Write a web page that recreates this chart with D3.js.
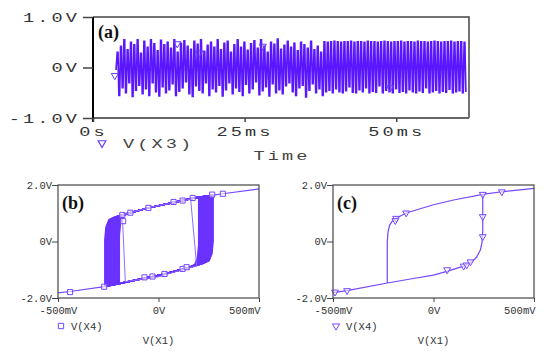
<!DOCTYPE html>
<html>
<head>
<meta charset="utf-8">
<script src="https://cdn.jsdelivr.net/npm/d3@7"></script>
<style>
  body { margin: 0; background: #fff; }
  svg { display: block; }
  .tick text { font-family: "Liberation Mono", monospace; fill: #333; }
</style>
</head>
<body>
<svg id="chart" width="550" height="355"></svg>
<script>
// ---- panel (a): V(X3) vs time, one swing per period (hi / lo peaks, volts)
const sigT0 = 4.0, sigDt = 0.55, sigBase = -0.05;
const sigHi = [
  .30,.42,.55,.35,.50,.45,.55,.28,.52,.40,
  .55,.47,.33,.54,.45,.50,.38,.55,.30,.48,
  .53,.42,.36,.52,.46,.55,.32,.44,.50,.40,
  .55,.35,.48,.52,.30,.45,.55,.40,.50,.34,
  .47,.53,.38,.55,.42,.30,.50,.46,.56,.36,
  .44,.52,.40,.48,.33,.50,.45,.38,.52,.35,
  .42,.30,
  .51,.50,.51,.52,.51,.50,.51,.51,.52,.50,
  .51,.51,.50,.52,.51,.51,.50,.51,.52,.51,
  .50,.51,.51,.52,.50,.51,.51,.50,.52,.51,
  .51,.50,.51,.52,.51,.50,.51,.51,.52,.50,
  .51,.51,.50
];
const sigLo = [
  -.55,-.40,-.50,-.30,-.57,-.45,-.35,-.52,-.42,-.55,
  -.30,-.48,-.56,-.38,-.50,-.44,-.32,-.55,-.47,-.40,
  -.28,-.52,-.57,-.36,-.45,-.50,-.30,-.55,-.42,-.48,
  -.35,-.56,-.44,-.30,-.52,-.40,-.47,-.55,-.33,-.50,
  -.42,-.28,-.54,-.46,-.38,-.56,-.32,-.50,-.44,-.52,
  -.36,-.30,-.48,-.55,-.40,-.35,-.58,-.45,-.32,-.50,
  -.42,-.55,
  -.48,-.45,-.50,-.42,-.48,-.50,-.46,-.38,-.49,-.50,
  -.44,-.48,-.40,-.50,-.47,-.49,-.36,-.50,-.45,-.48,
  -.50,-.42,-.49,-.47,-.50,-.44,-.48,-.50,-.46,-.49,
  -.40,-.50,-.48,-.45,-.50,-.47,-.49,-.43,-.50,-.48,
  -.46,-.50,-.47
];
const markA = [[3.6,-0.16],[13.9,0.47],[17.5,0.29],[28.0,0.42],[49.0,-0.40]];
const ticksA_x = [0, 25, 50], labelsA_x = ['0s', '25ms', '50ms'];
const ticksA_y = [-1, 0, 1], labelsA_y = ['-1.0V', '0V', '1.0V'];

// ---- panel (b): V(X4) vs V(X1), many nested loops
const bLower = [[-0.5,-1.82],[-0.44,-1.77],[-0.27,-1.6],[-0.07,-1.3],[-0.02,-1.23],[0.03,-1.15],[0.12,-0.98],[0.18,-0.86],[0.3,-0.62]];
const bUpper = [[-0.3,0.7],[-0.22,0.86],[-0.14,1.02],[-0.05,1.19],[0.075,1.38],[0.12,1.45],[0.17,1.53],[0.27,1.64],[0.32,1.69],[0.5,1.86]];
const bFall = [-0.267,-0.263,-0.259,-0.255,-0.251,-0.247,-0.243,-0.239,-0.235,-0.231,-0.227,-0.223,-0.219,-0.215,-0.211,-0.207,-0.203,-0.199,-0.195];
const bRise = [0.272,0.268,0.264,0.260,0.256,0.252,0.248,0.244,0.240,0.236,0.232,0.228,0.224,0.220,0.216,0.212,0.208,0.204,0.200];
const bInner = [[-0.165,-1.42],[0.0,-1.25],[0.12,-1.0],[0.19,-0.87],[0.16,1.5],[0.075,1.38],[-0.05,1.19],[-0.14,1.02],[-0.18,0.93],[-0.165,-1.42]];
const kneeShape = [[0.03,0.1],[0.044,0.35],[0.05,0.8]];
const markB = [[-0.44,-1.79],[-0.27,-1.6],[-0.07,-1.27],[-0.03,-1.24],[0.03,-1.15],[0.12,-0.97],[0.14,-0.91],
  [-0.176,0.72],[-0.18,0.94],[-0.14,1.02],[-0.05,1.19],[0.075,1.40],[0.12,1.45],[0.17,1.54],[0.267,1.66],[0.32,1.69]];

// ---- panel (c): V(X4) vs V(X1), single loop
const cLoop = [[-0.5,-1.81],[-0.43,-1.74],[-0.23,-1.47],[-0.1,-1.31],[0.0,-1.19],[0.075,-1.04],[0.15,-0.87],[0.19,-0.72],
  [0.215,-0.55],[0.233,-0.3],[0.241,-0.05],[0.245,0.4],[0.245,1.67],[0.34,1.76],[0.5,1.88],
  [0.34,1.76],[0.245,1.67],[0.1,1.47],[0.0,1.3],[-0.136,1.01],[-0.186,0.82],[-0.205,0.72],[-0.218,0.58],
  [-0.226,0.35],[-0.23,0.0],[-0.23,-1.47]];
const markC = [[-0.49,-1.79],[-0.43,-1.74],[-0.186,0.82],[-0.19,0.74],[-0.136,1.01],[0.245,1.67],[0.34,1.76],
  [0.245,0.88],[0.245,0.17],[0.068,-1.0],[0.15,-0.87],[0.165,-0.83],[0.184,-0.72]];

const ticksXY_x = [-0.5, 0, 0.5], labelsXY_x = ['-500mV', '0V', '500mV'];
const ticksXY_y = [-2, 0, 2], labelsXY_y = ['-2.0V', '0V', '2.0V'];

const svg = d3.select('#chart');
const violet = '#5a17ff', loopColor = '#7546ff', bandColor = '#6a32ff';

// ===== panel (a)
{
  const L = 93, R = 469, T = 17, B = 118;
  const x = d3.scaleLinear().domain([0, 62]).range([L, R]);
  const y = d3.scaleLinear().domain([-1, 1]).range([B, T]);
  const g = svg.append('g');

  const pts = [[sigT0 - 0.2, sigBase]];
  sigHi.forEach((h, i) => {
    const t = sigT0 + i * sigDt;
    pts.push([t, h], [t + 0.12, h], [t + sigDt * 0.5, sigLo[i]], [t + sigDt * 0.5 + 0.12, sigLo[i]]);
  });
  g.append('path')
      .attr('d', d3.line().x(d => x(d[0])).y(d => y(d[1]))(pts))
      .attr('fill', 'none')
      .attr('stroke', violet)
      .attr('stroke-width', 1.7);
  // faint mid-level trace that shows through the gaps
  g.append('path')
      .attr('d', d3.line().x(d => x(d[0])).y(d => y(d[1]))([[sigT0, sigBase], [sigT0 + sigHi.length * sigDt, sigBase]]))
      .attr('stroke', violet).attr('stroke-width', 0.8).attr('stroke-dasharray', '6 10').attr('opacity', 0.6);

  g.selectAll('.mk').data(markA).enter().append('path')
      .attr('d', d3.symbol(d3.symbolTriangle, 22))
      .attr('transform', d => `translate(${x(d[0])},${y(d[1])}) rotate(180)`)
      .attr('fill', 'none').attr('stroke', '#6a3cff').attr('stroke-width', 1);

  // frame
  g.append('path').attr('d', `M${L},${T}H${R}V${B}`).attr('fill', 'none').attr('stroke', '#444').attr('stroke-width', 1.5);
  g.append('line').attr('x1', L).attr('x2', R).attr('y1', B).attr('y2', B).attr('stroke', '#666').attr('stroke-width', 2);
  g.append('line').attr('x1', L).attr('x2', L).attr('y1', T).attr('y2', B + 4).attr('stroke', '#000').attr('stroke-width', 2);

  const sx = 1.55;
  const ya = g.append('g').attr('transform', `translate(${L},0)`)
      .call(d3.axisLeft(y).tickValues(ticksA_y).tickSize(10).tickFormat((d, i) => labelsA_y[i]));
  const xa = g.append('g').attr('transform', `translate(0,${B})`)
      .call(d3.axisBottom(x).tickValues(ticksA_x).tickSize(4).tickFormat((d, i) => labelsA_x[i]));
  [ya, xa].forEach(a => {
    a.select('.domain').remove();
    a.selectAll('line').attr('stroke', '#444').attr('stroke-width', 1.5);
    a.selectAll('text').attr('font-size', 12).attr('letter-spacing', 2).attr('fill', '#444');
  });
  ya.selectAll('text').attr('x', -13 / sx).attr('dy', '0.35em').attr('transform', `scale(${sx},1)`);
  xa.selectAll('text').attr('y', 10).attr('dy', '0.65em').attr('transform', `scale(${sx},1)`);

  // legend + axis title
  g.append('path').attr('d', d3.symbol(d3.symbolTriangle, 26))
      .attr('transform', 'translate(102,143) rotate(180)')
      .attr('fill', 'none').attr('stroke', '#6a3cff').attr('stroke-width', 1.2);
  g.append('text').attr('transform', `translate(123,148) scale(${sx},1)`)
      .attr('font-family', 'Liberation Mono').attr('font-size', 12).attr('letter-spacing', 2).attr('fill', '#444')
      .text('V(X3)');
  g.append('text').attr('transform', `translate(282,160) scale(${sx},1)`)
      .attr('text-anchor', 'middle')
      .attr('font-family', 'Liberation Mono').attr('font-size', 12).attr('letter-spacing', 2).attr('fill', '#444')
      .text('Time');
  g.append('text').attr('x', 98).attr('y', 38)
      .attr('font-family', 'Liberation Serif').attr('font-weight', 'bold').attr('font-size', 18).attr('fill', '#111')
      .text('(a)');
}

// ===== shared frame for the two loop panels
function loopPanel(L, R, T, B, label) {
  const x = d3.scaleLinear().domain([-0.5, 0.5]).range([L, R]);
  const y = d3.scaleLinear().domain([-2, 2]).range([B, T]);
  const g = svg.append('g');
  const plot = g.append('g');

  g.append('rect').attr('x', L).attr('y', T).attr('width', R - L).attr('height', B - T)
      .attr('fill', 'none').attr('stroke', '#555').attr('stroke-width', 1.3);

  const ya = g.append('g').attr('transform', `translate(${L},0)`)
      .call(d3.axisLeft(y).tickValues(ticksXY_y).tickSize(6).tickFormat((d, i) => labelsXY_y[i]));
  const xa = g.append('g').attr('transform', `translate(0,${B})`)
      .call(d3.axisBottom(x).tickValues(ticksXY_x).tickSize(4).tickFormat((d, i) => labelsXY_x[i]));
  [ya, xa].forEach(a => {
    a.select('.domain').remove();
    a.selectAll('line').attr('stroke', '#444');
    a.selectAll('text').attr('font-size', 10.5).attr('fill', '#333');
  });
  ya.selectAll('text').attr('x', -6);
  xa.selectAll('text').attr('y', 9);
  xa.selectAll('text').filter((d, i) => i === ticksXY_x.length - 1).attr('text-anchor', 'end').attr('x', 1);

  g.append('text').attr('x', L + 13).attr('y', 330)
      .attr('font-family', 'Liberation Mono').attr('font-size', 10.5).attr('fill', '#333').text('V(X4)');
  g.append('text').attr('x', (L + R) / 2).attr('y', 344).attr('text-anchor', 'middle')
      .attr('font-family', 'Liberation Mono').attr('font-size', 10.5).attr('fill', '#333').text('V(X1)');
  g.append('text').attr('x', L + 4).attr('y', T + 24)
      .attr('font-family', 'Liberation Serif').attr('font-weight', 'bold').attr('font-size', 18).attr('fill', '#111')
      .text(label);
  return {x, y, g, plot};
}

const line = (x, y) => d3.line().x(d => x(d[0])).y(d => y(d[1]));

// ===== panel (b)
{
  const {x, y, g, plot} = loopPanel(58, 259, 185, 298, '(b)');
  const lo = d3.scaleLinear().domain(bLower.map(p => p[0])).range(bLower.map(p => p[1]));
  const up = d3.scaleLinear().domain(bUpper.map(p => p[0])).range(bUpper.map(p => p[1]));
  const k0 = kneeShape[kneeShape.length - 1][0];

  bFall.forEach((l, i) => {
    const r = bRise[i];
    const p = [[l, lo(l)]];
    bLower.forEach(q => { if (q[0] > l && q[0] < r - k0) p.push(q); });
    const yl = lo(r - k0);
    p.push([r - k0, yl]);
    kneeShape.forEach(k => p.push([r - k0 + k[0], yl + k[1]]));
    p.push([r, up(r)]);
    bUpper.slice().reverse().forEach(q => { if (q[0] < r && q[0] > l + k0) p.push(q); });
    const yu = up(l + k0);
    p.push([l + k0, yu]);
    kneeShape.forEach(k => p.push([l + k0 - k[0], yu - k[1]]));
    p.push([l, lo(l)]);
    plot.append('path').attr('d', line(x, y)(p))
        .attr('fill', 'none').attr('stroke', bandColor).attr('stroke-width', 1.5);
  });
  // saturation tails
  plot.append('path').attr('d', line(x, y)(bLower.filter(q => q[0] <= -0.27).concat([[bFall[0], lo(bFall[0])]])))
      .attr('fill', 'none').attr('stroke', loopColor).attr('stroke-width', 1.2);
  plot.append('path').attr('d', line(x, y)([[bRise[0], up(bRise[0])]].concat(bUpper.filter(q => q[0] > 0.275))))
      .attr('fill', 'none').attr('stroke', loopColor).attr('stroke-width', 1.2);
  plot.append('path').attr('d', line(x, y)(bInner))
      .attr('fill', 'none').attr('stroke', '#8d6cff').attr('stroke-width', 1);

  plot.selectAll('.mk').data(markB).enter().append('path')
      .attr('d', d3.symbol(d3.symbolSquare, 26))
      .attr('transform', d => `translate(${x(d[0])},${y(d[1])})`)
      .attr('fill', '#fff').attr('fill-opacity', 0.6).attr('stroke', loopColor).attr('stroke-width', 1);

  g.append('path').attr('d', d3.symbol(d3.symbolSquare, 28))
      .attr('transform', 'translate(61,326)')
      .attr('fill', 'none').attr('stroke', loopColor).attr('stroke-width', 1);
}

// ===== panel (c)
{
  const {x, y, g, plot} = loopPanel(333, 534, 185, 298, '(c)');
  plot.append('path').attr('d', line(x, y)(cLoop))
      .attr('fill', 'none').attr('stroke', loopColor).attr('stroke-width', 1.2);
  plot.selectAll('.mk').data(markC).enter().append('path')
      .attr('d', d3.symbol(d3.symbolTriangle, 20))
      .attr('transform', d => `translate(${x(d[0])},${y(d[1])}) rotate(180)`)
      .attr('fill', '#fff').attr('fill-opacity', 0.6).attr('stroke', loopColor).attr('stroke-width', 1);

  g.append('path').attr('d', d3.symbol(d3.symbolTriangle, 22))
      .attr('transform', 'translate(336,326) rotate(180)')
      .attr('fill', 'none').attr('stroke', loopColor).attr('stroke-width', 1);
}
</script>
</body>
</html>
